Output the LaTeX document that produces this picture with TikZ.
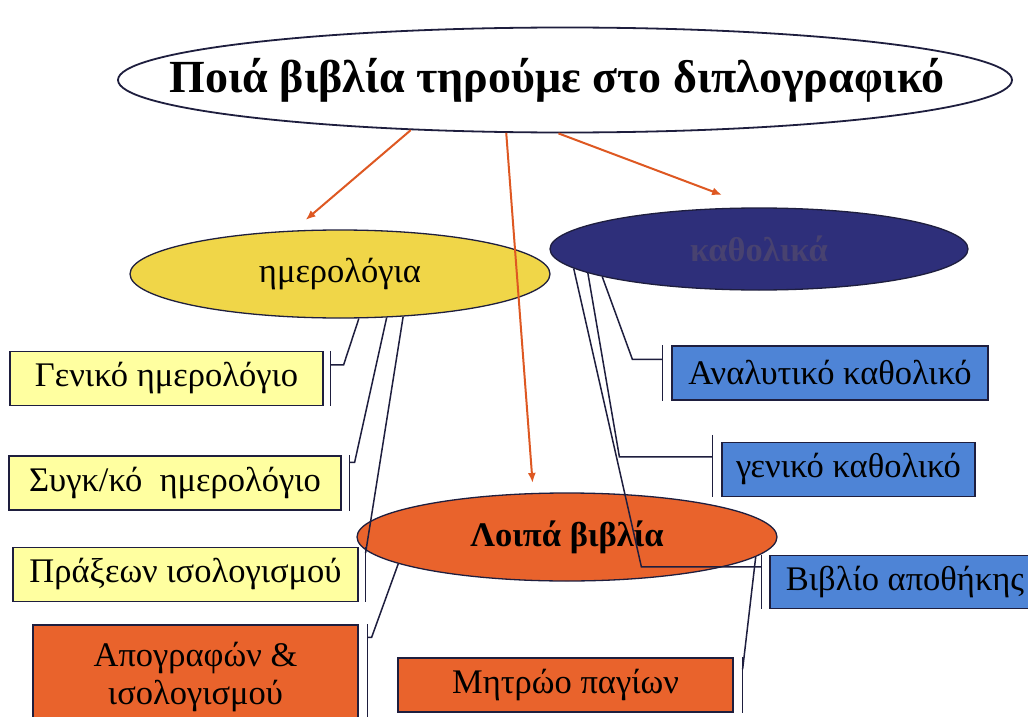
\documentclass[tikz,border=0pt]{standalone}
\usepackage{fontspec}
\setmainfont{Liberation Serif}
\usetikzlibrary{shapes.geometric,arrows.meta}
\definecolor{linecol}{RGB}{30,30,62}
\definecolor{arrowcol}{RGB}{222,88,34}
\definecolor{goldfill}{RGB}{240,214,72}
\definecolor{navyfill}{RGB}{46,47,122}
\definecolor{navytext}{RGB}{72,66,112}
\definecolor{orangefill}{RGB}{233,99,44}
\definecolor{paleyellow}{RGB}{255,255,160}
\definecolor{bluefill}{RGB}{78,132,214}
\begin{document}
\begin{tikzpicture}[x=1pt,y=-1pt]
  \useasboundingbox[fill=white] (0,0) rectangle (1028,717);
  \begin{scope}[every node/.style={ellipse,draw=linecol,line width=1.3pt,inner sep=0pt,minimum width=420pt,minimum height=88pt,font=\fontsize{34.5}{40}\selectfont}]
  \node[fill=white,line width=1.8pt,minimum width=894pt,minimum height=105pt,font=\fontsize{46}{52}\selectfont\bfseries] (title) at (565,80) {\makebox[0pt]{\hspace*{-16pt}Ποιά βιβλία τηρούμε στο διπλογραφικό}};
  \node[fill=goldfill] (hmer) at (340,274) {ημερολόγια};
  \node[fill=navyfill,text=navytext,minimum width=418pt,minimum height=82pt,font=\fontsize{34.5}{40}\selectfont\bfseries] (kath) at (759,249) {καθολικά};
  \node[fill=orangefill,font=\fontsize{34.5}{40}\selectfont\bfseries] (loipa) at (567,537) {Λοιπά βιβλία};
  \end{scope}
  \begin{scope}[every node/.style={rectangle,draw=linecol,line width=1.2pt,inner sep=0pt,minimum height=54pt,align=center,font=\fontsize{34.5}{38}\selectfont}]
  \node[fill=paleyellow,minimum width=313pt] (g1) at (166.5,378.5) {Γενικό ημερολόγιο};
  \node[fill=paleyellow,minimum width=332pt] (g2) at (175,483) {Συγκ/κό\ \ ημερολόγιο};
  \node[fill=paleyellow,minimum width=345pt] (g3) at (185.5,574.5) {Πράξεων ισολογισμού};
  \node[fill=orangefill,minimum width=325pt,minimum height=105pt] (g4) at (195.5,677.5) {Απογραφών \&\\ισολογισμού};
  \node[fill=bluefill,minimum width=316pt] (a1) at (830,373) {Αναλυτικό καθολικό};
  \node[fill=bluefill,minimum width=253pt] (a2) at (848.5,469.5) {γενικό καθολικό};
  \node[fill=bluefill,minimum width=270pt,minimum height=53pt] (a3) at (905,582) {Βιβλίο αποθήκης};
  \node[fill=orangefill,minimum width=335pt] (m1) at (565.5,685) {Μητρώο παγίων};
  \end{scope}
  % end points on the bars
  \coordinate (g1b) at ([xshift=7pt,yshift=-14pt]g1.north east);
  \coordinate (g2b) at ([xshift=8pt,yshift=-7pt]g2.north east);
  \coordinate (g3b) at ([xshift=7pt,yshift=-6pt]g3.north east);
  \coordinate (g4b) at ([xshift=9pt,yshift=-13pt]g4.north east);
  \coordinate (a1b) at ([xshift=-9pt,yshift=-14pt]a1.north west);
  \coordinate (a2b) at ([xshift=-9pt,yshift=-15pt]a2.north west);
  \coordinate (a3b) at ([xshift=-8pt,yshift=-12pt]a3.north west);
  \coordinate (m1b) at ([xshift=9pt,yshift=-12pt]m1.north east);
  \begin{scope}[draw=linecol,line width=1.5pt]
  \draw ([xshift=7pt]g1.north east) -- ([xshift=7pt]g1.south east);
  \draw ([xshift=8pt]g2.north east) -- ([xshift=8pt]g2.south east);
  \draw ([xshift=7pt]g3.north east) -- ([xshift=7pt]g3.south east);
  \draw ([xshift=9pt]g4.north east) -- ([xshift=9pt]g4.south east);
  \draw ([xshift=-9pt]a1.north west) -- ([xshift=-9pt]a1.south west);
  \draw ([xshift=-9pt,yshift=7pt]a2.north west) -- ([xshift=-9pt]a2.south west);
  \draw ([xshift=-8pt]a3.north west) -- ([xshift=-8pt]a3.south west);
  \draw ([xshift=9pt]m1.north east) -- ([xshift=9pt]m1.south east);
  \draw (hmer.-67.7) -- ([xshift=13pt]g1b) -- (g1b);
  \draw (hmer.-43.7) -- ([xshift=5pt]g2b) -- (g2b);
  \draw (hmer.-34.1) -- (g3b);
  \draw (loipa.-171.2) -- ([xshift=4pt]g4b) -- (g4b);
  \draw (loipa.-6.3) -- (m1b);
  \draw (kath.-170.1) -- ([xshift=-30pt]a1b) -- (a1b);
  \draw (kath.-172.1) -- ([xshift=-93pt]a2b) -- (a2b);
  \draw (kath.-174) -- ([xshift=-120pt]a3b) -- (a3b);
  \end{scope}
  \begin{scope}[every edge/.style={draw=arrowcol,line width=2pt,-{Latex[length=10pt,width=8pt]}}]
  \path (title.-162.4) edge ([yshift=10pt]hmer.128.9);
  \path (title.-138.9) edge ([yshift=10pt]loipa.128.1);
  \path (title.-97.7) edge ([yshift=13pt]kath.132.5);
  \end{scope}
\end{tikzpicture}
\end{document}
